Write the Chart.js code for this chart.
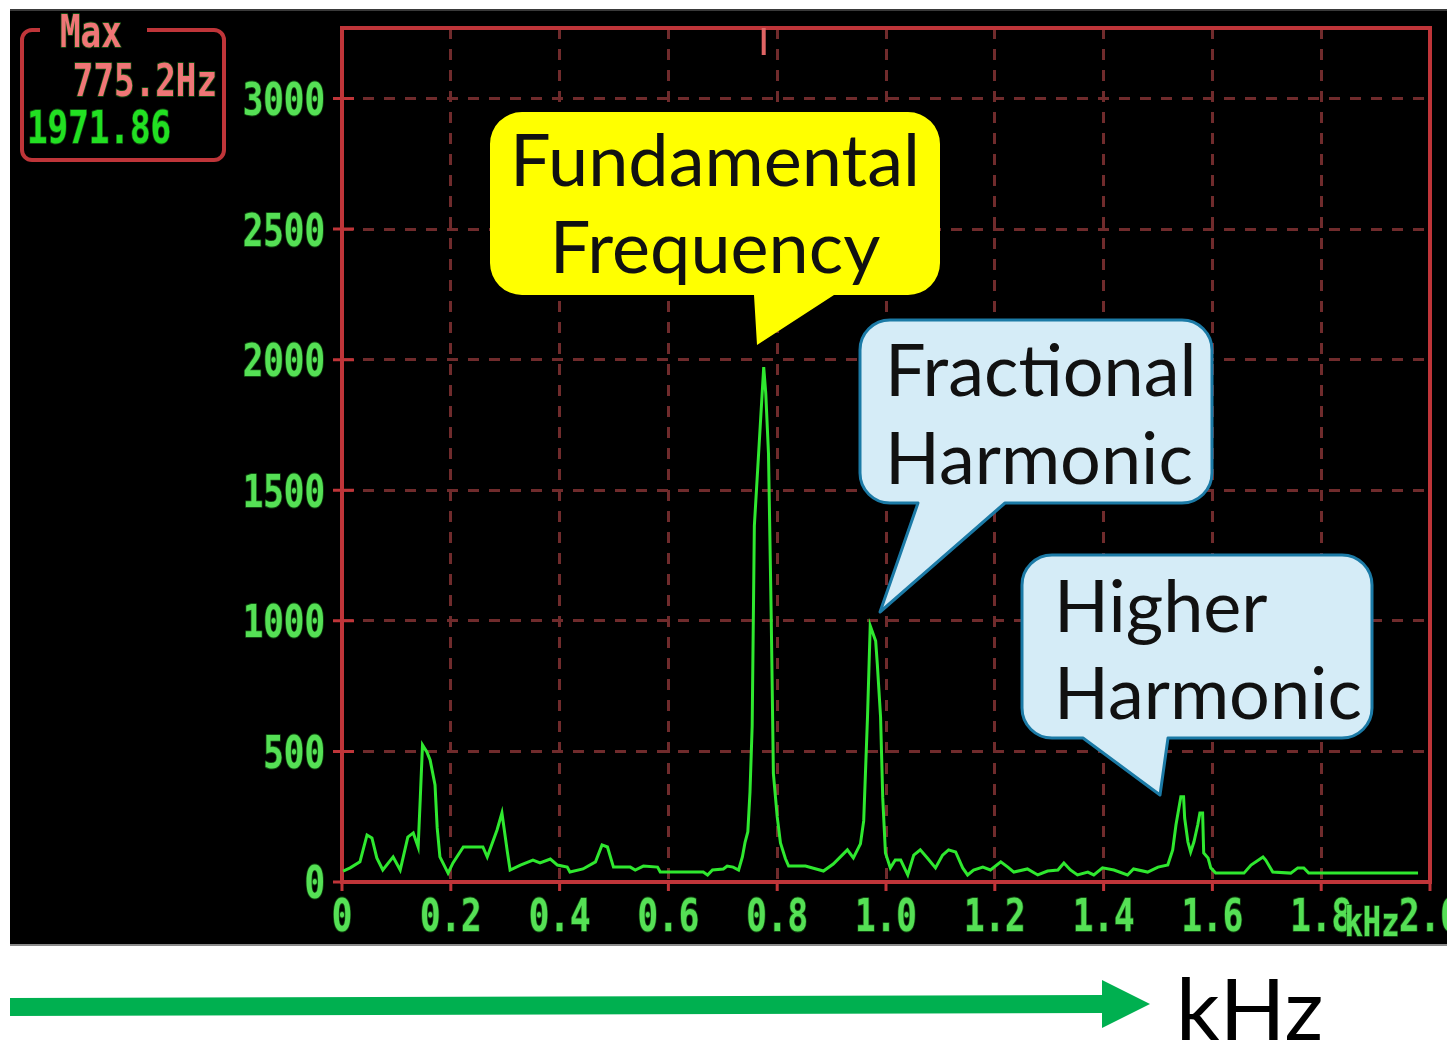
<!DOCTYPE html>
<html>
<head>
<meta charset="utf-8">
<title>Spectrum</title>
<script src="https://cdn.jsdelivr.net/npm/chart.js@4.4.1/dist/chart.umd.min.js"></script>
<style>
  html, body { margin: 0; padding: 0; background: #ffffff; }
  canvas { display: block; }
</style>
</head>
<body>
<canvas id="spectrum" width="1447" height="1045"></canvas>
<script>
// spectrum samples: frequency in kHz, amplitude
const freqKHz = [
  0.002, 0.015, 0.033, 0.046, 0.055, 0.064, 0.075, 0.094, 0.107, 0.121,
  0.131, 0.140, 0.144, 0.148, 0.156, 0.162, 0.171, 0.175, 0.180, 0.195,
  0.204, 0.223, 0.259, 0.267, 0.285, 0.294, 0.304, 0.309, 0.328, 0.351,
  0.364, 0.383, 0.396, 0.414, 0.419, 0.443, 0.466, 0.478, 0.488, 0.499,
  0.530, 0.539, 0.554, 0.580, 0.585, 0.664, 0.672, 0.681, 0.701, 0.708,
  0.719, 0.729, 0.736, 0.741, 0.746, 0.750, 0.754, 0.758, 0.7752, 0.779,
  0.784, 0.789, 0.793, 0.800, 0.806, 0.815, 0.821, 0.852, 0.885, 0.903,
  0.929, 0.940, 0.953, 0.959, 0.966, 0.971, 0.981, 0.984, 0.990, 0.994,
  0.999, 1.008, 1.017, 1.027, 1.040, 1.051, 1.063, 1.076, 1.091, 1.104,
  1.115, 1.128, 1.141, 1.150, 1.161, 1.178, 1.192, 1.211, 1.224, 1.235,
  1.260, 1.279, 1.297, 1.316, 1.327, 1.339, 1.352, 1.371, 1.382, 1.398,
  1.419, 1.444, 1.455, 1.481, 1.500, 1.518, 1.527, 1.533, 1.542, 1.547,
  1.549, 1.555, 1.560, 1.566, 1.573, 1.577, 1.582, 1.584, 1.592, 1.597,
  1.606, 1.658, 1.671, 1.693, 1.698, 1.711, 1.744, 1.757, 1.768, 1.777,
  1.978
];
const amplitude = [
  42, 54, 77, 180, 169, 92, 46, 96, 46, 172,
  188, 134, 326, 525, 498, 467, 372, 207, 96, 34,
  73, 134, 134, 96, 199, 264, 115, 46, 65, 84,
  73, 88, 65, 57, 38, 50, 77, 142, 134, 57,
  57, 46, 61, 57, 38, 38, 27, 46, 50, 61,
  57, 46, 96, 153, 192, 345, 598, 1364, 1971.86, 1870,
  1640, 1015, 415, 250, 150, 90, 61, 61, 42, 69,
  123, 92, 146, 234, 632, 981, 923, 835, 632, 322,
  111, 54, 84, 84, 27, 103, 123, 92, 54, 103,
  123, 115, 54, 27, 46, 57, 46, 77, 57, 38,
  50, 27, 42, 46, 73, 46, 27, 38, 27, 54,
  46, 27, 50, 38, 57, 65, 123, 218, 326, 326,
  245, 153, 115, 153, 218, 264, 264, 111, 92, 54,
  34, 34, 65, 96, 84, 38, 34, 54, 54, 34,
  34
];

// readout of the strongest component
const peakFreqKHz = 0.7752;
const peakValue = 1971.86;

const xTickValues = [0, 0.2, 0.4, 0.6, 0.8, 1.0, 1.2, 1.4, 1.6, 1.8, 2.0];
const xTickLabels = ["0", "0.2", "0.4", "0.6", "0.8", "1.0", "1.2", "1.4", "1.6", "1.8", "2.0"];
const yTickValues = [0, 500, 1000, 1500, 2000, 2500, 3000];
const yTickLabels = ["0", "500", "1000", "1500", "2000", "2500", "3000"];

const calloutLines = {
  fundamental: ["Fundamental", "Frequency"],
  fractional: ["Fractional", "Harmonic"],
  higher: ["Higher", "Harmonic"]
};

const gridRed = "#702b2c";
const axisRed = "#bf3539";

// screen lettering, squeezed horizontally
function lcdText(ctx, text, x, cy, align, color, size) {
  ctx.save();
  ctx.translate(x, cy + size * 0.365);
  ctx.scale(0.76, 1);
  ctx.font = 'bold ' + size + 'px "DejaVu Sans Mono"';
  ctx.textAlign = align;
  ctx.textBaseline = "alphabetic";
  ctx.lineJoin = "round";
  ctx.lineWidth = 2;
  ctx.strokeStyle = "rgba(20,90,20,0.8)";
  ctx.strokeText(text, 0, 0);
  ctx.fillStyle = color;
  ctx.fillText(text, 0, 0);
  ctx.restore();
}

// rounded box with a pointer leaving its bottom edge
function callout(ctx, b, tail, fill, stroke) {
  const r = b.r;
  ctx.save();
  ctx.beginPath();
  ctx.moveTo(b.x0 + r, b.y0);
  ctx.lineTo(b.x1 - r, b.y0);
  ctx.arcTo(b.x1, b.y0, b.x1, b.y0 + r, r);
  ctx.lineTo(b.x1, b.y1 - r);
  ctx.arcTo(b.x1, b.y1, b.x1 - r, b.y1, r);
  ctx.lineTo(tail.right, b.y1);
  ctx.lineTo(tail.tipX, tail.tipY);
  ctx.lineTo(tail.left, b.y1);
  ctx.lineTo(b.x0 + r, b.y1);
  ctx.arcTo(b.x0, b.y1, b.x0, b.y1 - r, r);
  ctx.lineTo(b.x0, b.y0 + r);
  ctx.arcTo(b.x0, b.y0, b.x0 + r, b.y0, r);
  ctx.closePath();
  ctx.fillStyle = fill;
  ctx.fill();
  if (stroke) {
    ctx.lineJoin = "round";
    ctx.lineWidth = 3;
    ctx.strokeStyle = stroke;
    ctx.stroke();
  }
  ctx.restore();
}

function calloutText(ctx, lines, x, baselines, align) {
  ctx.save();
  ctx.font = '72px Lato';
  ctx.fillStyle = "#111111";
  ctx.textAlign = align;
  ctx.textBaseline = "alphabetic";
  lines.forEach((t, i) => ctx.fillText(t, x, baselines[i]));
  ctx.restore();
}

const screenPlugin = {
  id: "screen",
  beforeDraw(chart) {
    const ctx = chart.ctx;
    ctx.save();
    ctx.fillStyle = "#ffffff";
    ctx.fillRect(0, 0, chart.width, chart.height);
    ctx.fillStyle = "#000000";
    ctx.fillRect(10, 10, chart.width - 10, 935);
    ctx.fillStyle = "#3a3a3a";
    ctx.fillRect(10, 9, chart.width - 10, 2);
    ctx.fillStyle = "#8a8a8a";
    ctx.fillRect(10, 944, chart.width - 10, 2);
    ctx.restore();
  },
  beforeDatasetsDraw(chart) {
    const ctx = chart.ctx;
    const a = chart.chartArea;
    const xs = chart.scales.x, ys = chart.scales.y;
    ctx.save();
    ctx.strokeStyle = axisRed;
    ctx.lineWidth = 4;
    ctx.strokeRect(a.left, a.top, a.right - a.left, a.bottom - a.top);
    ctx.lineWidth = 3;
    ctx.beginPath();
    ys.ticks.forEach(t => {
      const py = ys.getPixelForValue(t.value);
      ctx.moveTo(a.left - 9, py);
      ctx.lineTo(a.left + 12, py);
    });
    xs.ticks.forEach(t => {
      const px = xs.getPixelForValue(t.value);
      ctx.moveTo(px, a.bottom);
      ctx.lineTo(px, a.bottom + 9);
    });
    ctx.stroke();
    // cursor at the readout frequency
    const mx = xs.getPixelForValue(peakFreqKHz);
    ctx.strokeStyle = "#e06464";
    ctx.lineWidth = 4;
    ctx.beginPath();
    ctx.moveTo(mx, a.top);
    ctx.lineTo(mx, a.top + 27);
    ctx.stroke();
    ctx.restore();
  },
  afterDraw(chart) {
    const ctx = chart.ctx;
    const a = chart.chartArea;
    const xs = chart.scales.x, ys = chart.scales.y;
    const green = "#55e055";

    ys.ticks.forEach((t, i) => {
      lcdText(ctx, yTickLabels[i], a.left - 17, ys.getPixelForValue(t.value), "right", green, 45);
    });
    xs.ticks.forEach((t, i) => {
      lcdText(ctx, xTickLabels[i], xs.getPixelForValue(t.value), a.bottom + 33, "center", green, 45);
    });
    lcdText(ctx, "kHz", 1372, 921, "center", green, 40);

    // max readout box
    ctx.save();
    ctx.strokeStyle = axisRed;
    ctx.lineWidth = 4;
    ctx.beginPath();
    ctx.moveTo(40, 30);
    ctx.lineTo(32, 30);
    ctx.arcTo(22, 30, 22, 40, 10);
    ctx.lineTo(22, 150);
    ctx.arcTo(22, 160, 32, 160, 10);
    ctx.lineTo(214, 160);
    ctx.arcTo(224, 160, 224, 150, 10);
    ctx.lineTo(224, 40);
    ctx.arcTo(224, 30, 214, 30, 10);
    ctx.lineTo(147, 30);
    ctx.stroke();
    ctx.restore();
    lcdText(ctx, "Max", 60, 31, "left", "#ef7676", 45);
    lcdText(ctx, (peakFreqKHz * 1000).toFixed(1) + "Hz", 217, 80, "right", "#ef7676", 45);
    lcdText(ctx, peakValue.toFixed(2), 27, 127, "left", "#22e022", 45);

    callout(ctx, { x0: 490, y0: 112, x1: 940, y1: 295, r: 32 },
      { left: 754, right: 834, tipX: 757, tipY: 345 }, "#ffff00", null);
    calloutText(ctx, calloutLines.fundamental, 715, [186, 273], "center");

    callout(ctx, { x0: 860, y0: 320, x1: 1212, y1: 503, r: 30 },
      { left: 918, right: 1005, tipX: 880, tipY: 612 }, "#d5ecf7", "#1b7aa6");
    calloutText(ctx, calloutLines.fractional, 885, [396, 484], "left");

    callout(ctx, { x0: 1022, y0: 555, x1: 1372, y1: 738, r: 30 },
      { left: 1083, right: 1168, tipX: 1160, tipY: 795 }, "#d5ecf7", "#1b7aa6");
    calloutText(ctx, calloutLines.higher, 1054, [632, 719], "left");

    // frequency direction arrow under the screen
    ctx.save();
    ctx.fillStyle = "#00b050";
    ctx.beginPath();
    ctx.moveTo(10, 998);
    ctx.lineTo(1102, 995);
    ctx.lineTo(1102, 980);
    ctx.lineTo(1150, 1004);
    ctx.lineTo(1102, 1028);
    ctx.lineTo(1102, 1013);
    ctx.lineTo(10, 1016);
    ctx.closePath();
    ctx.fill();
    ctx.font = '86px Lato';
    ctx.fillStyle = "#000000";
    ctx.textAlign = "left";
    ctx.fillText("kHz", 1176, 1040);
    ctx.restore();
  }
};

const gridColor = ctx => (ctx.tick && ctx.tick.value === 0) ? "rgba(0,0,0,0)" : gridRed;

const chart = new Chart(document.getElementById("spectrum"), {
  type: "line",
  data: {
    datasets: [{
      data: freqKHz.map((f, i) => ({ x: f, y: amplitude[i] })),
      borderColor: "#2fe82f",
      borderWidth: 3,
      pointRadius: 0,
      tension: 0,
      fill: false
    }]
  },
  options: {
    responsive: false,
    animation: false,
    devicePixelRatio: 1,
    layout: { padding: { top: 28, right: 17, left: 0, bottom: 0 } },
    plugins: {
      legend: { display: false },
      tooltip: { enabled: false }
    },
    scales: {
      x: {
        type: "linear",
        bounds: "data",
        min: 0,
        max: 2.0,
        ticks: { display: false },
        afterBuildTicks: s => { s.ticks = xTickValues.map(v => ({ value: v })); },
        grid: { color: gridColor, lineWidth: 3, drawTicks: false },
        border: { display: false, dash: [11, 10] },
        afterFit: s => { s.height = 1045 - 882; }
      },
      y: {
        type: "linear",
        bounds: "data",
        min: 0,
        max: 3270,
        ticks: { display: false },
        afterBuildTicks: s => { s.ticks = yTickValues.map(v => ({ value: v })); },
        grid: { color: gridColor, lineWidth: 3, drawTicks: false },
        border: { display: false, dash: [11, 10] },
        afterFit: s => { s.width = 342; }
      }
    }
  },
  plugins: [screenPlugin]
});
</script>
</body>
</html>
